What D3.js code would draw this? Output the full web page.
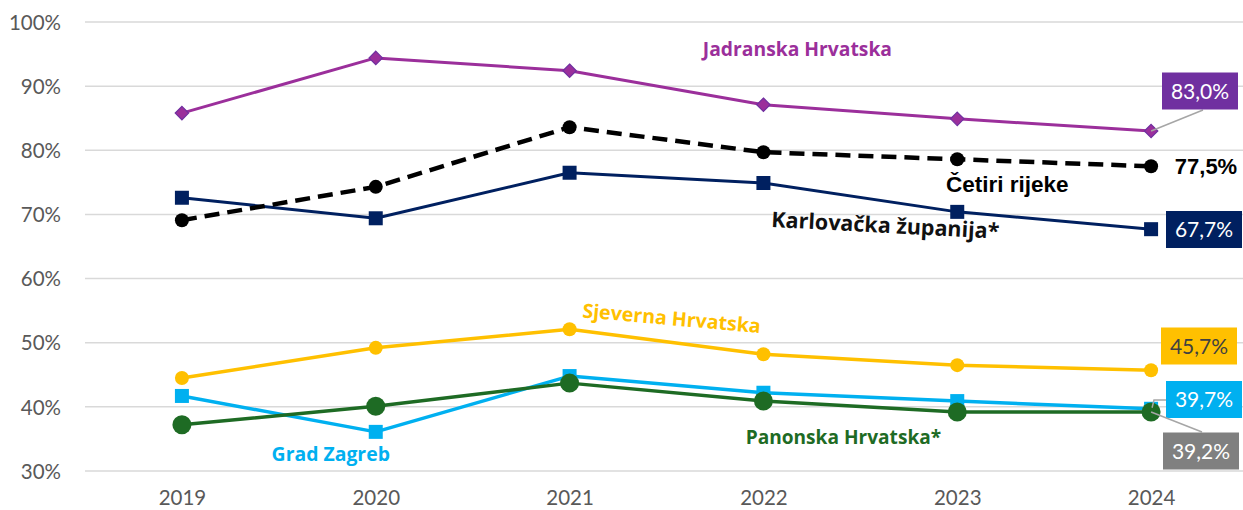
<!DOCTYPE html>
<html>
<head>
<meta charset="utf-8">
<script src="https://cdn.jsdelivr.net/npm/d3@7"></script>
<style>
  body { margin: 0; background: #fff; }
  svg { display: block; }
</style>
</head>
<body>
<svg id="chart"></svg>
<script>
const years = ['2019', '2020', '2021', '2022', '2023', '2024'];
const yTicks = [0.3, 0.4, 0.5, 0.6, 0.7, 0.8, 0.9, 1.0];

const jadranska = [0.858, 0.944, 0.924, 0.871, 0.849, 0.830];
const cetiriRijeke = [0.691, 0.743, 0.836, 0.797, 0.786, 0.775];
const karlovacka = [0.726, 0.694, 0.765, 0.749, 0.704, 0.677];
const sjeverna = [0.445, 0.492, 0.521, 0.482, 0.465, 0.457];
const gradZagreb = [0.417, 0.361, 0.448, 0.422, 0.409, 0.397];
const panonska = [0.372, 0.401, 0.437, 0.409, 0.392, 0.392];

const width = 1243, height = 510;
const margin = {top: 22, right: -5, bottom: 39, left: 85};

const svg = d3.select('#chart').attr('width', width).attr('height', height);

const x = d3.scalePoint().domain(years)
  .range([margin.left, width - margin.right]).padding(0.5);
const y = d3.scaleLinear().domain([0.3, 1.0])
  .range([height - margin.bottom, margin.top]);

const pct = d3.format('.1%');
const fmt = v => pct(v).replace('.', ',');

// gridlines
svg.append('g')
  .selectAll('line').data(yTicks).enter().append('line')
  .attr('x1', margin.left).attr('x2', width - margin.right)
  .attr('y1', d => y(d)).attr('y2', d => y(d))
  .attr('stroke', '#d9d9d9').attr('stroke-width', 1.5);

// axes
const yAxis = svg.append('g')
  .attr('transform', `translate(${margin.left - 21},0)`)
  .call(d3.axisLeft(y).tickValues(yTicks).tickFormat(d3.format('.0%')).tickSize(0));
const xAxis = svg.append('g')
  .attr('transform', `translate(0,${height - margin.bottom + 16})`)
  .call(d3.axisBottom(x).tickSize(0));
for (const ax of [yAxis, xAxis]) {
  ax.select('.domain').remove();
  ax.selectAll('text')
    .attr('fill', '#595959')
    .style('font-family', 'Lato, "Open Sans", sans-serif')
    .style('font-size', '20.5px');
}
yAxis.selectAll('text').attr('dy', '0.35em');

const series = [
  {name: 'Jadranska Hrvatska', values: jadranska, color: '#9b2f9b', fill: '#9b2f9b', stroke: '#7030a0', marker: 'diamond', size: 11, lw: 3},
  {name: 'Četiri rijeke', values: cetiriRijeke, color: '#000', fill: '#000', stroke: '#000', marker: 'circle', size: 14, lw: 4.5, dash: '15,8'},
  {name: 'Karlovačka županija*', values: karlovacka, color: '#002060', fill: '#002060', stroke: '#002060', marker: 'square', size: 14, lw: 3},
  {name: 'Sjeverna Hrvatska', values: sjeverna, color: '#ffc000', fill: '#ffc000', stroke: '#ffc000', marker: 'circle', size: 14, lw: 3.5},
  {name: 'Grad Zagreb', values: gradZagreb, color: '#00b0f0', fill: '#00b0f0', stroke: '#00b0f0', marker: 'square', size: 14, lw: 3.5},
  {name: 'Panonska Hrvatska*', values: panonska, color: '#1e6b24', fill: '#1e6b24', stroke: '#1e6b24', marker: 'circle', size: 19, lw: 3.5}
];

const line = d3.line().x((d, i) => x(years[i])).y(d => y(d));

// draw in back-to-front order like the reference
const order = [4, 5, 3, 2, 1, 0];
for (const idx of order) {
  const s = series[idx];
  const g = svg.append('g');
  g.append('path')
    .attr('d', line(s.values))
    .attr('fill', 'none')
    .attr('stroke', s.color)
    .attr('stroke-width', s.lw)
    .attr('stroke-dasharray', s.dash || null)
    .attr('stroke-linejoin', 'round');
  const pts = g.selectAll('.pt').data(s.values).enter();
  if (s.marker === 'circle') {
    pts.append('circle')
      .attr('cx', (d, i) => x(years[i])).attr('cy', d => y(d))
      .attr('r', s.size / 2).attr('fill', s.fill);
  } else if (s.marker === 'square') {
    pts.append('rect')
      .attr('x', (d, i) => x(years[i]) - s.size / 2).attr('y', d => y(d) - s.size / 2)
      .attr('width', s.size).attr('height', s.size).attr('fill', s.fill);
  } else {
    pts.append('path')
      .attr('d', d3.symbol(d3.symbolDiamond2, s.size * s.size * 0.95)())
      .attr('transform', (d, i) => `translate(${x(years[i])},${y(d)})`)
      .attr('fill', s.fill).attr('stroke', s.stroke).attr('stroke-width', 1.2);
  }
}

// series name labels (anchor year, value offset, pixel offsets)
const openBold = size => `bold ${size}px "Open Sans", sans-serif`;
const nameLabels = [
  {s: 0, year: '2022', v: 0.958, dx: 34, rot: 0, font: openBold(19.3)},
  {s: 1, year: '2023', v: 0.747, dx: 50, rot: 0, font: 'bold 22.5px "Liberation Sans", Arial, sans-serif', color: '#000'},
  {s: 2, year: '2022', v: 0.683, dx: 122, rot: 3, font: openBold(21.5), color: '#111'},
  {s: 3, year: '2021', v: 0.538, dx: 102, rot: 5, font: openBold(19.6)},
  {s: 4, year: '2020', v: 0.326, dx: -45, rot: 0, font: openBold(19.4)},
  {s: 5, year: '2022', v: 0.353, dx: 80, rot: 0, font: openBold(19.1)}
];
svg.append('g').selectAll('text').data(nameLabels).enter().append('text')
  .attr('transform', d => `translate(${x(d.year) + d.dx},${y(d.v)}) rotate(${d.rot})`)
  .attr('text-anchor', 'middle')
  .attr('dy', '0.35em')
  .attr('fill', d => d.color || series[d.s].color)
  .style('font', d => d.font)
  .text(d => series[d.s].name);

// end value labels
const last = years[years.length - 1];
const endLabels = [
  {s: 0, cx: 1200, cy: 91, bg: '#7030a0', fg: '#fff', leader: [[1203, 110], [x(last), y(jadranska[5])]]},
  {s: 1, cx: 1206, cy: 166, bg: null, fg: '#000', bold: true},
  {s: 2, cx: 1204, cy: 229.5, bg: '#002060', fg: '#fff'},
  {s: 3, cx: 1199, cy: 346, bg: '#ffc000', fg: '#404040'},
  {s: 4, cx: 1204, cy: 399.5, bg: '#00b0f0', fg: '#fff', leader: [[1166, 400], [1154, 400], [x(last) + 1, y(gradZagreb[5]) - 1]]},
  {s: 5, cx: 1201, cy: 451, bg: '#808080', fg: '#fff', leader: [[1202, 432], [x(last), y(panonska[5])]]}
];
const endG = svg.append('g');
for (const d of endLabels) {
  const s = series[d.s];
  if (d.leader) {
    endG.append('path')
      .attr('d', d3.line()(d.leader))
      .attr('fill', 'none').attr('stroke', '#a6a6a6').attr('stroke-width', 1.5);
  }
  if (d.bg) {
    endG.append('rect')
      .attr('x', d.cx - 38).attr('y', d.cy - 18.5)
      .attr('width', 76).attr('height', 37)
      .attr('fill', d.bg);
  }
  endG.append('text')
    .attr('x', d.cx).attr('y', d.cy).attr('dy', '0.36em')
    .attr('text-anchor', 'middle')
    .attr('fill', d.fg)
    .style('font', d.bold ? 'bold 22px "Liberation Sans", Arial, sans-serif' : '21px Lato, "Open Sans", sans-serif')
    .text(fmt(s.values[s.values.length - 1]));
}
</script>
</body>
</html>
